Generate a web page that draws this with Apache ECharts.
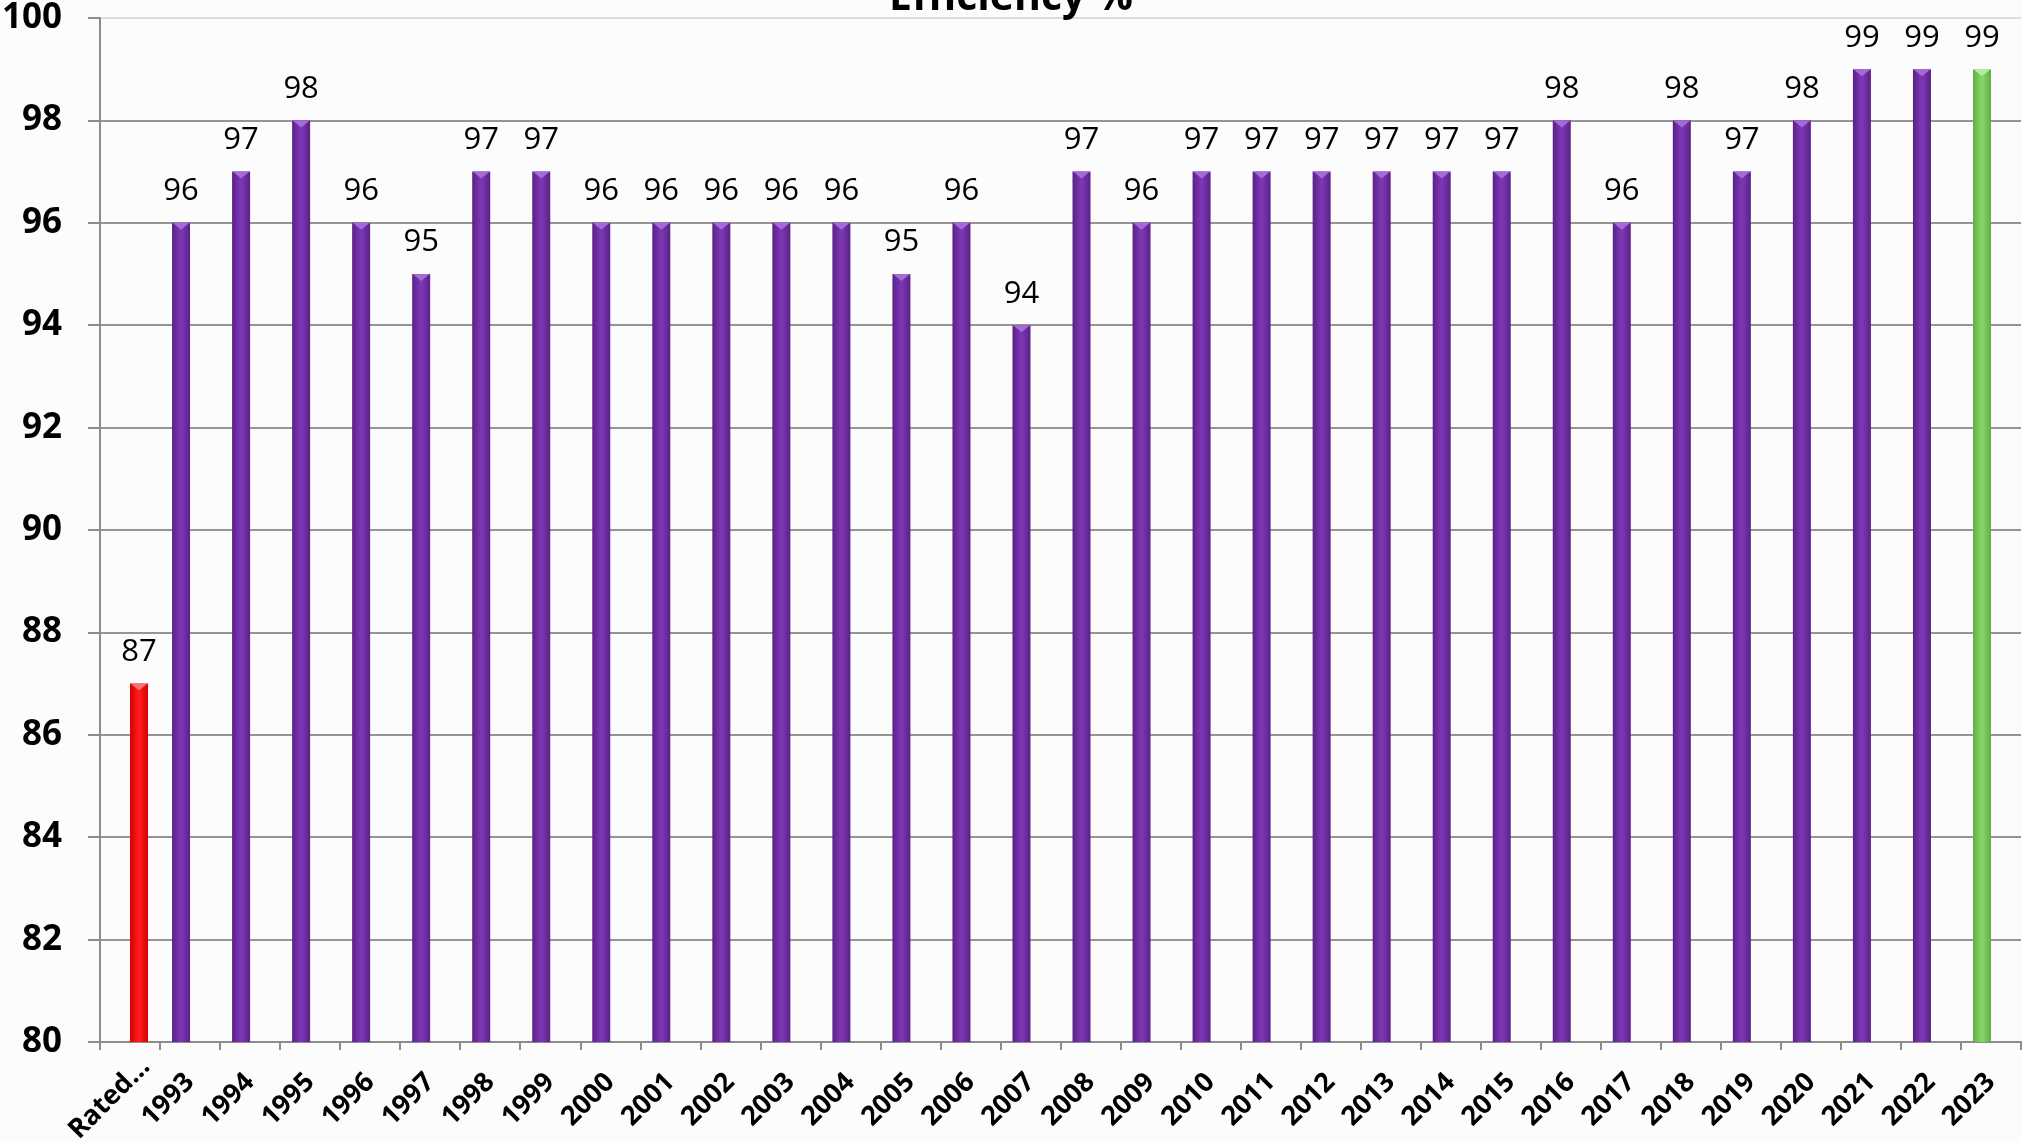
<!DOCTYPE html>
<html>
<head>
<meta charset="utf-8">
<script src="https://cdn.jsdelivr.net/npm/echarts@6/dist/echarts.min.js"></script>
<style>
html,body{margin:0;padding:0;background:#fcfcfc;}
#chart{width:2022px;height:1142px;}
</style>
</head>
<body>
<div id="chart"></div>
<script>
const categories = ['Rated…','1993','1994','1995','1996','1997','1998','1999','2000','2001','2002','2003','2004','2005','2006','2007','2008','2009','2010','2011','2012','2013','2014','2015','2016','2017','2018','2019','2020','2021','2022','2023'];
const yearlyValues = [null,96,97,98,96,95,97,97,96,96,96,96,96,95,96,94,97,96,97,97,97,97,97,97,98,96,98,97,98,99,99,99];
const ratedValues = [87,null,null,null,null,null,null,null,null,null,null,null,null,null,null,null,null,null,null,null,null,null,null,null,null,null,null,null,null,null,null,null];
const highlightCategory = '2023';
const yTicks = [80,82,84,86,88,90,92,94,96,98,100];

function grad(edge, mid) {
  return new echarts.graphic.LinearGradient(0,0,1,0,[
    {offset:0,color:edge},{offset:0.45,color:mid},{offset:0.55,color:mid},{offset:1,color:edge}
  ]);
}
const purple = grad('#5b2186','#7b36b3');
const green = grad('#5fae43','#86d466');
const red = grad('#d40000','#ff1a1a');

const yearlyData = yearlyValues.map((v,i)=>{
  if (categories[i] === highlightCategory) return {value:v, itemStyle:{color:green}};
  return v;
});
const yearlyCaps = yearlyValues.map((v,i)=>{
  if (categories[i] === highlightCategory) return {value:v, itemStyle:{color:'#b4ec9c'}};
  return v;
});
const categoryData = categories.map((c,i)=> i === 0 ? {value:c, textStyle:{padding:[0,-22,0,0]}} : c);

const chart = echarts.init(document.getElementById('chart'));
const gridColors = yTicks.map(t => t === 100 ? '#dcdcdc' : '#959595');
const capCommon = {
  type:'pictorialBar',
  symbol:'triangle',
  symbolRotate:180,
  symbolSize:[17,7],
  symbolPosition:'end',
  z:3,
  silent:true,
  label:{show:false}
};
chart.setOption({
  backgroundColor:'#fcfcfc',
  animation:false,
  title:{
    text:'Efficiency %',
    left:'center',
    top:-22,
    padding:0,
    textStyle:{fontFamily:'Open Sans',fontWeight:'bold',fontSize:41,color:'#000'}
  },
  grid:{left:100,right:1,top:18,bottom:100,containLabel:false,outerBoundsMode:'none'},
  xAxis:{
    type:'category',
    data:categoryData,
    axisLine:{lineStyle:{color:'#8c8c8c',width:2}},
    axisTick:{show:true,length:8,lineStyle:{color:'#8c8c8c',width:2}},
    axisLabel:{rotate:45,interval:0,margin:36,fontFamily:'Open Sans',fontWeight:'bold',fontSize:27,color:'#000'}
  },
  yAxis:{
    type:'value',
    min:80,max:100,interval:2,
    axisLine:{show:true,lineStyle:{color:'#8c8c8c',width:2}},
    axisTick:{show:true,length:12,lineStyle:{color:'#8c8c8c',width:2}},
    axisLabel:{margin:38,fontFamily:'Open Sans',fontWeight:'bold',fontSize:35,color:'#000'},
    splitLine:{show:true,lineStyle:{color:gridColors,width:2}}
  },
  series:[
    {
      name:'Efficiency',
      type:'bar',
      data:yearlyData,
      barWidth:18,
      barGap:'0%',
      itemStyle:{color:purple},
      label:{show:true,position:'top',distance:16,fontFamily:'Open Sans',fontSize:31,color:'#000'}
    },
    {
      name:'Rated',
      type:'bar',
      data:ratedValues,
      barWidth:18,
      barGap:'0%',
      itemStyle:{color:red},
      label:{show:true,position:'top',distance:16,fontFamily:'Open Sans',fontSize:31,color:'#000'}
    },
    Object.assign({}, capCommon, {
      name:'EfficiencyCap',
      data:yearlyCaps,
      symbolOffset:[-9,0],
      itemStyle:{color:'#a46ad6'}
    }),
    Object.assign({}, capCommon, {
      name:'RatedCap',
      data:ratedValues,
      symbolOffset:[9,0],
      itemStyle:{color:'#ff7070'}
    })
  ]
});
</script>
</body>
</html>
